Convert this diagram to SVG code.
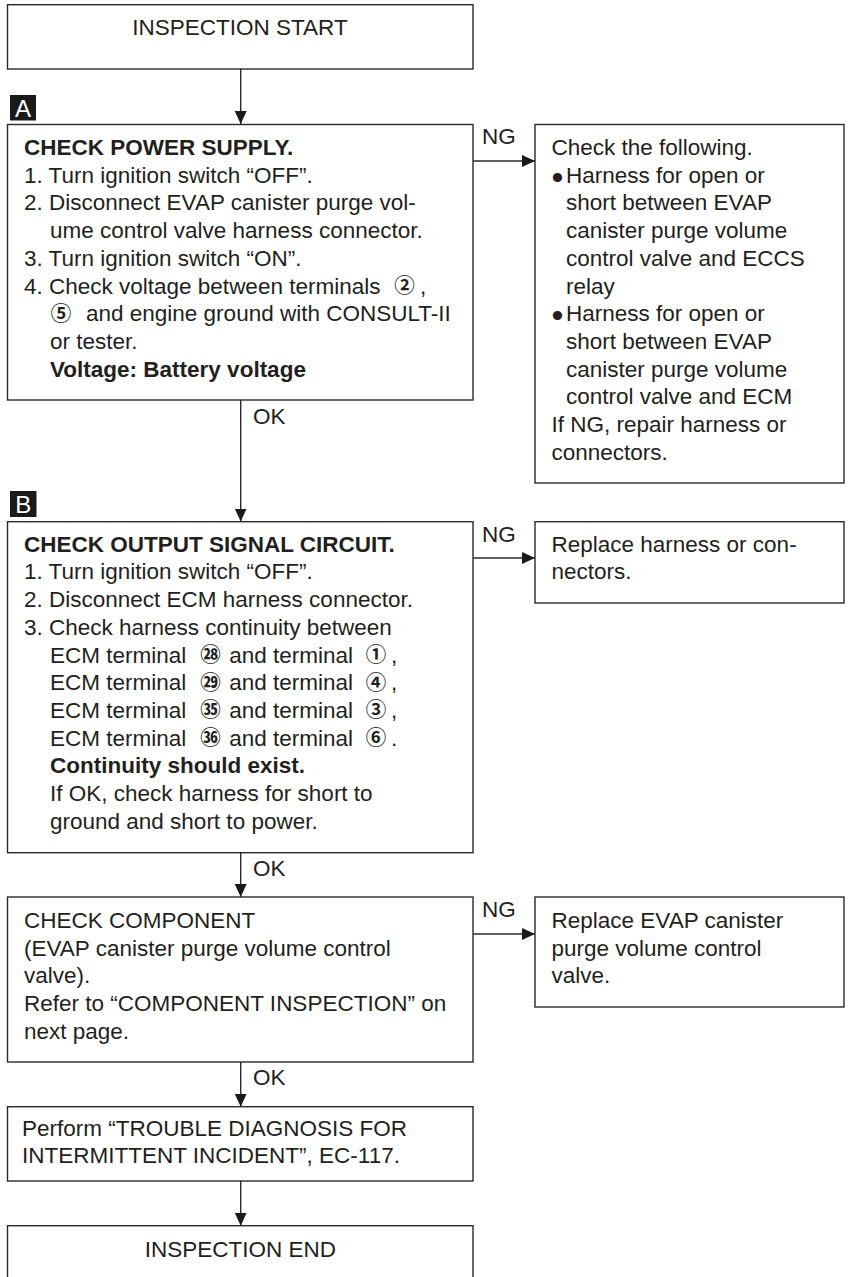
<svg xmlns="http://www.w3.org/2000/svg" width="848" height="1277" viewBox="0 0 848 1277">
<defs>
<style>
.box{fill:#ffffff;stroke:#2a2a2a;stroke-width:1.4}
.t{font-family:"Liberation Sans",Arial,sans-serif;font-size:22.5px;fill:#231f20}
.b{font-weight:bold}
.m{text-anchor:middle}
.c{font-family:"Noto Sans CJK JP","Noto Sans CJK SC",sans-serif;font-size:20.5px;font-weight:bold;fill:#231f20;text-anchor:middle}
.conn{stroke:#2a2a2a;stroke-width:1.4;fill:none}
.tag{fill:#1a1a1a}
.tagt{font-family:"Liberation Sans",Arial,sans-serif;font-size:24px;fill:#ffffff;text-anchor:middle}
.bul{font-family:"Liberation Sans",Arial,sans-serif;font-size:34px;fill:#231f20}
</style>
<marker id="ah" markerUnits="userSpaceOnUse" markerWidth="14" markerHeight="13" refX="13" refY="6" orient="auto">
<path d="M0,0 L13,6 L0,12 z" fill="#1a1a1a"/>
</marker>
</defs>
<rect width="848" height="1277" fill="#ffffff"/>

<g id="connectors">
<line class="conn" x1="240.7" y1="69" x2="240.7" y2="124" marker-end="url(#ah)"/>
<line class="conn" x1="240.7" y1="400" x2="240.7" y2="521.5" marker-end="url(#ah)"/>
<text class="t" x="253" y="424">OK</text>
<line class="conn" x1="240.7" y1="852.7" x2="240.7" y2="897" marker-end="url(#ah)"/>
<text class="t" x="253" y="876">OK</text>
<line class="conn" x1="240.7" y1="1062" x2="240.7" y2="1106.7" marker-end="url(#ah)"/>
<text class="t" x="253" y="1085">OK</text>
<line class="conn" x1="240.7" y1="1181" x2="240.7" y2="1225.7" marker-end="url(#ah)"/>
<line class="conn" x1="473" y1="161" x2="535" y2="161" marker-end="url(#ah)"/>
<text class="t" x="482" y="144">NG</text>
<line class="conn" x1="473" y1="558" x2="535" y2="558" marker-end="url(#ah)"/>
<text class="t" x="482" y="541.7">NG</text>
<line class="conn" x1="473" y1="934" x2="535" y2="934" marker-end="url(#ah)"/>
<text class="t" x="482" y="917">NG</text>
</g>

<g id="start">
<rect class="box" x="7.5" y="4.7" width="465.5" height="64.3"/>
<text class="t m" x="240" y="35">INSPECTION START</text>
</g>

<g id="tagA">
<rect class="tag" x="10" y="95" width="26" height="25.5"/>
<text class="tagt" x="23" y="116.5">A</text>
</g>

<g id="checkPower">
<rect class="box" x="7.5" y="124.5" width="465.5" height="275.5"/>
<text class="t b" x="24" y="155">CHECK POWER SUPPLY.</text>
<text class="t" x="24" y="182.7">1. Turn ignition switch “OFF”.</text>
<text class="t" x="24" y="210.4">2. Disconnect EVAP canister purge vol-</text>
<text class="t" x="50" y="238.1">ume control valve harness connector.</text>
<text class="t" x="24" y="265.8">3. Turn ignition switch “ON”.</text>
<text class="t" x="24" y="293.5">4. Check voltage between terminals</text>
<text class="c" x="404.5" y="293">②</text>
<text class="t" x="420" y="293.5">,</text>
<text class="c" x="61" y="320.7">⑤</text>
<text class="t" x="86" y="321.2">and engine ground with CONSULT-II</text>
<text class="t" x="50" y="348.9">or tester.</text>
<text class="t b" x="50" y="376.6">Voltage: Battery voltage</text>
</g>

<g id="ngPower">
<rect class="box" x="535" y="124.5" width="309" height="358.5"/>
<text class="t" x="551.5" y="155">Check the following.</text>
<text class="bul" x="551.5" y="188.7">•</text>
<text class="t" x="566" y="182.7">Harness for open or</text>
<text class="t" x="566" y="210.4">short between EVAP</text>
<text class="t" x="566" y="238.1">canister purge volume</text>
<text class="t" x="566" y="265.8">control valve and ECCS</text>
<text class="t" x="566" y="293.5">relay</text>
<text class="bul" x="551.5" y="327.2">•</text>
<text class="t" x="566" y="321.2">Harness for open or</text>
<text class="t" x="566" y="348.9">short between EVAP</text>
<text class="t" x="566" y="376.6">canister purge volume</text>
<text class="t" x="566" y="404.3">control valve and ECM</text>
<text class="t" x="551.5" y="432">If NG, repair harness or</text>
<text class="t" x="551.5" y="459.7">connectors.</text>
</g>

<g id="tagB">
<rect class="tag" x="10" y="491" width="26.5" height="26"/>
<text class="tagt" x="23.3" y="512.8">B</text>
</g>

<g id="checkOutput">
<rect class="box" x="7.5" y="521.7" width="465.5" height="331"/>
<text class="t b" x="24" y="551.7">CHECK OUTPUT SIGNAL CIRCUIT.</text>
<text class="t" x="24" y="579.4">1. Turn ignition switch “OFF”.</text>
<text class="t" x="24" y="607.1">2. Disconnect ECM harness connector.</text>
<text class="t" x="24" y="634.8">3. Check harness continuity between</text>
<text class="t" x="50" y="662.5">ECM terminal</text>
<text class="c" x="210.5" y="662">㉘</text>
<text class="t" x="229.3" y="662.5">and terminal</text>
<text class="c" x="376" y="662">①</text>
<text class="t" x="391" y="662.5">,</text>
<text class="t" x="50" y="690.2">ECM terminal</text>
<text class="c" x="210.5" y="689.7">㉙</text>
<text class="t" x="229.3" y="690.2">and terminal</text>
<text class="c" x="376" y="689.7">④</text>
<text class="t" x="391" y="690.2">,</text>
<text class="t" x="50" y="717.9">ECM terminal</text>
<text class="c" x="210.5" y="717.4">㉟</text>
<text class="t" x="229.3" y="717.9">and terminal</text>
<text class="c" x="376" y="717.4">③</text>
<text class="t" x="391" y="717.9">,</text>
<text class="t" x="50" y="745.6">ECM terminal</text>
<text class="c" x="210.5" y="745.1">㊱</text>
<text class="t" x="229.3" y="745.6">and terminal</text>
<text class="c" x="376" y="745.1">⑥</text>
<text class="t" x="391" y="745.6">.</text>
<text class="t b" x="50" y="773.3">Continuity should exist.</text>
<text class="t" x="50" y="801">If OK, check harness for short to</text>
<text class="t" x="50" y="828.7">ground and short to power.</text>
</g>

<g id="ngOutput">
<rect class="box" x="535" y="521.7" width="309" height="81.3"/>
<text class="t" x="551.5" y="551.7">Replace harness or con-</text>
<text class="t" x="551.5" y="579.4">nectors.</text>
</g>

<g id="checkComponent">
<rect class="box" x="7.5" y="897" width="465.5" height="165"/>
<text class="t" x="24" y="928">CHECK COMPONENT</text>
<text class="t" x="24" y="955.7">(EVAP canister purge volume control</text>
<text class="t" x="24" y="983.4">valve).</text>
<text class="t" x="24" y="1011.1">Refer to “COMPONENT INSPECTION” on</text>
<text class="t" x="24" y="1038.8">next page.</text>
</g>

<g id="ngComponent">
<rect class="box" x="535" y="897" width="309" height="110"/>
<text class="t" x="551.5" y="928">Replace EVAP canister</text>
<text class="t" x="551.5" y="955.7">purge volume control</text>
<text class="t" x="551.5" y="983.4">valve.</text>
</g>

<g id="perform">
<rect class="box" x="7.5" y="1106.7" width="465.5" height="74.3"/>
<text class="t" x="22" y="1135.5">Perform “TROUBLE DIAGNOSIS FOR</text>
<text class="t" x="22" y="1163.2">INTERMITTENT INCIDENT”, EC-117.</text>
</g>

<g id="end">
<rect class="box" x="7.5" y="1225.7" width="465.5" height="70"/>
<text class="t m" x="240.3" y="1256.7">INSPECTION END</text>
</g>
</svg>
